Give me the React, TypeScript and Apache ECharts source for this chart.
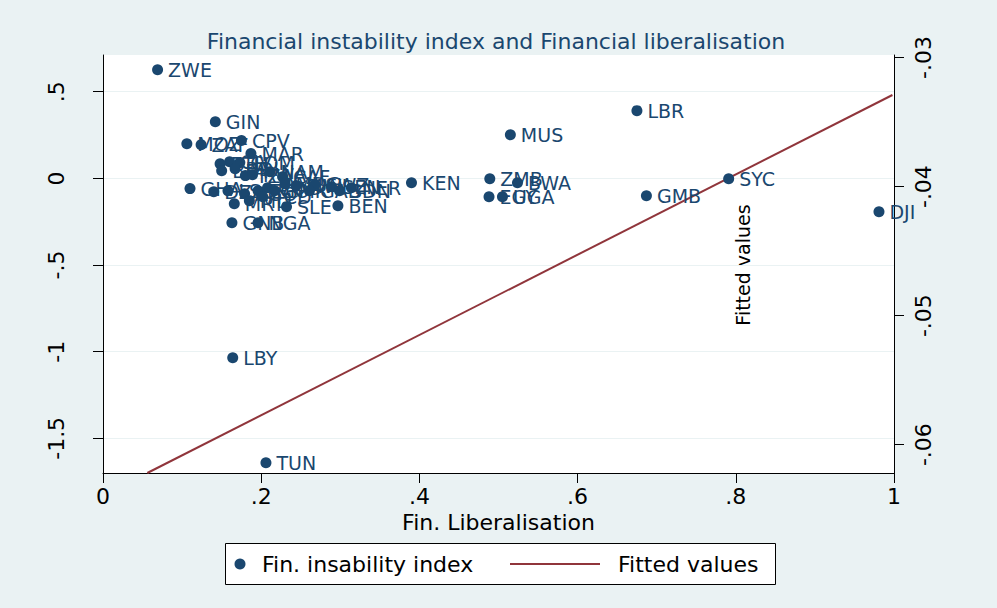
import React, { useEffect, useRef } from "react";
import * as echarts from "echarts";

// Country codes (marker labels)
const codes = [
  "ZWE", "GIN", "LBR", "MUS", "CPV", "MOZ", "ZAF", "MAR", "COM", "CIV",
  "ETH", "BDI", "BFA", "TZA", "RWA", "NAM", "CAF", "GHA", "DZA", "LSO",
  "AGO", "TGO", "COG", "CMR", "MDG", "MWI", "SWZ", "SEN", "NER", "SDN",
  "MRT", "SLE", "BEN", "GNB", "NGA", "KEN", "ZMB", "BWA", "EGY", "UGA",
  "SYC", "GMB", "DJI", "LBY", "TUN", "MLI", "TCD", "GAB",
];

// Fin. Liberalisation (x)
const finLiberalisation = [
  0.069, 0.142, 0.675, 0.515, 0.175, 0.106, 0.124, 0.187, 0.173, 0.16,
  0.148, 0.167, 0.15, 0.18, 0.189, 0.211, 0.227, 0.11, 0.14, 0.158,
  0.179, 0.196, 0.208, 0.217, 0.23, 0.244, 0.268, 0.289, 0.314, 0.299,
  0.166, 0.232, 0.297, 0.163, 0.196, 0.39, 0.489, 0.524, 0.488, 0.505,
  0.791, 0.687, 0.981, 0.164, 0.206, 0.185, 0.202, 0.261,
];

// Fin. instability index (left axis)
const finInstability = [
  0.627, 0.327, 0.391, 0.252, 0.218, 0.2, 0.194, 0.143, 0.091, 0.096,
  0.085, 0.056, 0.044, 0.016, 0.021, 0.039, 0.01, -0.059, -0.077, -0.071,
  -0.088, -0.071, -0.054, -0.071, -0.031, -0.042, -0.036, -0.048, -0.054, -0.071,
  -0.146, -0.163, -0.158, -0.256, -0.256, -0.025, -0.002, -0.025, -0.106, -0.106,
  -0.002, -0.1, -0.192, -1.035, -1.641, -0.129, -0.106, -0.071,
];

// Fitted values line (right axis)
const fitX = [0.056, 0.998];
const fitValues = [-0.0622, -0.0329];

// Tick labels
const leftTicks = [-1.5, -1, -0.5, 0, 0.5];
const rightTicks = [-0.06, -0.05, -0.04, -0.03];

const NAVY = "#1a476f";
const MAROON = "#90353b";
const BG = "#eaf2f3";
const FONT = "DejaVu Sans";

function stataNum(v: number): string {
  const r = Number(v.toFixed(3));
  if (r === 0) return "0";
  const s = String(Math.abs(r)).replace(/^0\./, ".");
  return (r < 0 ? "-" : "") + s;
}

export default function App() {
  const ref = useRef<HTMLDivElement>(null);

  useEffect(() => {
    document.body.style.margin = "0";
    const chart = echarts.init(ref.current!, null, { renderer: "svg" });

    const scatterData = codes.map((c, i) => [finLiberalisation[i], finInstability[i], c]);
    const lineData = fitX.map((x, i) => [x, fitValues[i]]);

    const option: any = {
      animation: false,
      backgroundColor: BG,
      textStyle: { fontFamily: FONT },
      grid: {
        left: 103,
        right: 103,
        top: 55,
        bottom: 135,
        show: true,
        backgroundColor: "#ffffff",
        borderWidth: 0,
      },
      xAxis: {
        type: "value",
        min: 0,
        max: 1,
        interval: 0.2,
        axisLine: { show: true, onZero: false, lineStyle: { color: "#000", width: 1 } },
        axisTick: { show: true, length: 10, lineStyle: { color: "#000" } },
        axisLabel: {
          fontSize: 22,
          color: "#000",
          fontFamily: FONT,
          margin: 12,
          formatter: (v: number) => stataNum(v),
        },
        splitLine: { show: false },
        name: "Fin. Liberalisation",
        nameLocation: "middle",
        nameGap: 36,
        nameTextStyle: { fontSize: 22, color: "#000", fontFamily: FONT },
      },
      yAxis: [
        {
          type: "value",
          position: "left",
          min: -1.7,
          max: 0.712,
          axisLine: { show: true, onZero: false, lineStyle: { color: "#000", width: 1 } },
          axisTick: { show: true, length: 10, customValues: leftTicks, lineStyle: { color: "#000" } },
          axisLabel: {
            customValues: leftTicks,
            rotate: 90,
            fontSize: 22,
            color: "#000",
            fontFamily: FONT,
            margin: 36,
            formatter: (v: number) => stataNum(v),
          },
          splitLine: { show: true, lineStyle: { color: BG, width: 1 } },
        },
        {
          type: "value",
          position: "right",
          min: -0.0622,
          max: -0.0298,
          axisLine: { show: true, onZero: false, lineStyle: { color: "#000", width: 1 } },
          axisTick: { show: true, length: 10, customValues: rightTicks, lineStyle: { color: "#000" } },
          axisLabel: {
            customValues: rightTicks,
            rotate: 90,
            fontSize: 22,
            color: "#000",
            fontFamily: FONT,
            margin: 18,
            formatter: (v: number) => stataNum(v),
          },
          splitLine: { show: false },
        },
      ],
      series: [
        {
          type: "line",
          yAxisIndex: 1,
          data: lineData,
          showSymbol: false,
          symbol: "none",
          lineStyle: { color: MAROON, width: 2 },
          silent: true,
          z: 1,
        },
        {
          type: "scatter",
          yAxisIndex: 0,
          data: scatterData,
          symbol: "circle",
          symbolSize: 11,
          itemStyle: { color: NAVY, opacity: 1 },
          label: {
            show: true,
            position: "right",
            distance: 5,
            color: NAVY,
            fontSize: 19,
            fontFamily: FONT,
            formatter: (p: any) => p.data[2],
          },
          z: 2,
        },
      ],
      graphic: [
        {
          type: "text",
          x: 496,
          y: 41,
          style: {
            text: "Financial instability index and Financial liberalisation",
            fill: NAVY,
            fontSize: 22,
            fontFamily: FONT,
            textAlign: "center",
            textVerticalAlign: "middle",
          },
        },
        {
          type: "text",
          x: 743,
          y: 265,
          rotation: Math.PI / 2,
          style: {
            text: "Fitted values",
            fill: "#000",
            fontSize: 19,
            fontFamily: FONT,
            textAlign: "center",
            textVerticalAlign: "middle",
          },
        },
        {
          type: "rect",
          shape: { x: 225.5, y: 543.5, width: 550, height: 41 },
          style: { fill: "#ffffff", stroke: "#000", lineWidth: 1 },
        },
        {
          type: "circle",
          shape: { cx: 240, cy: 564, r: 5.5 },
          style: { fill: NAVY },
        },
        {
          type: "text",
          x: 262,
          y: 564,
          style: {
            text: "Fin. insability index",
            fill: "#000",
            fontSize: 22,
            fontFamily: FONT,
            textVerticalAlign: "middle",
          },
        },
        {
          type: "line",
          shape: { x1: 510, y1: 564, x2: 600, y2: 564 },
          style: { stroke: MAROON, lineWidth: 2 },
        },
        {
          type: "text",
          x: 618,
          y: 564,
          style: {
            text: "Fitted values",
            fill: "#000",
            fontSize: 22,
            fontFamily: FONT,
            textVerticalAlign: "middle",
          },
        },
      ],
    };

    chart.setOption(option);
    return () => chart.dispose();
  }, []);

  return <div ref={ref} style={{ width: 997, height: 608 }} />;
}
